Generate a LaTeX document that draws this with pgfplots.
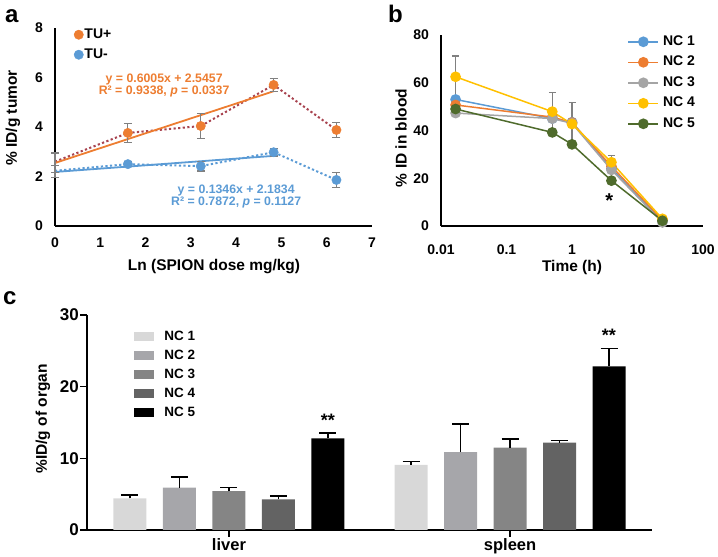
\documentclass[border=0pt]{standalone}
\usepackage{pgfplots}
\pgfplotsset{compat=1.18}
\usepackage{fontspec}
\setmainfont{Liberation Sans}

\definecolor{cOr}{HTML}{ED7D31}
\definecolor{cBl}{HTML}{5B9BD5}
\definecolor{cMa}{HTML}{A8434F}
\definecolor{cGy}{HTML}{A5A5A5}
\definecolor{cYe}{HTML}{FFC000}
\definecolor{cGr}{HTML}{4F6B2C}
\definecolor{eGy}{HTML}{808080}
\definecolor{b1}{HTML}{D8D8D8}
\definecolor{b2}{HTML}{A6A6AA}
\definecolor{b3}{HTML}{858585}
\definecolor{b4}{HTML}{636363}

\pgfplotsset{
  base/.style={scale only axis, anchor=south west, axis lines=left,
    axis line style={-, line width=1.8pt},
    tick style={draw=none}, major tick length=0pt, minor tick length=0pt,
    /pgf/number format/assume math mode=true,
    tick label style={font=\fontsize{14}{16}\selectfont\bfseries},
    yticklabel style={xshift=-8.5pt},
    xticklabel style={yshift=-8pt}},
  ebar/.style={error bars/.cd, y dir=both, y explicit, error mark=|,
    error bar style={eGy, line width=1.2pt},
    error mark options={eGy, line width=1.2pt, mark size=#1}, /pgfplots/.cd},
  cerr/.style={error bars/.cd, y dir=plus, y explicit, error mark=|,
    error bar style={black, line width=1.5pt},
    error mark options={black, line width=1.5pt, mark size=8.5pt}, /pgfplots/.cd},
}

\begin{document}
\begin{tikzpicture}
\useasboundingbox (0pt,0pt) rectangle (718pt,557pt);

% ---------------- panel a ----------------
\begin{axis}[base, at={(55pt,331pt)}, width=317pt, height=198pt,
  xmin=0, xmax=7, ymin=0, ymax=8, xtick={0,1,...,7}, ytick={0,2,4,6,8},
  clip=false,
  legend style={at={(0.05,1.01)}, anchor=north west, draw=none, fill=none,
    font=\fontsize{14}{16}\selectfont\bfseries, row sep=7pt,
    nodes={inner sep=0pt, text height=10pt, text depth=3pt},
    /tikz/every odd column/.append style={column sep=1pt}},
  legend cell align=left,
  legend image code/.code={\draw[#1] plot coordinates {(5pt,0pt)};}]
% dotted connecting lines
\addplot[cMa, line width=2pt, dash pattern=on 2.2pt off 2.4pt, forget plot]
  coordinates {(0,2.6) (1.609,3.76) (3.219,4.04) (4.828,5.70) (6.215,3.88)};
\addplot[cBl, line width=2pt, dash pattern=on 2.2pt off 2.4pt, forget plot]
  coordinates {(0,2.23) (1.609,2.50) (3.219,2.42) (4.828,2.98) (6.215,1.86)};
% regression lines
\addplot[cOr, line width=1.8pt, forget plot] coordinates {(0,2.5457) (4.828,5.4450)};
\addplot[cBl, line width=1.8pt, forget plot] coordinates {(0,2.1834) (4.828,2.8333)};
% error bars
\addplot[forget plot, draw=none, mark=none, ebar=4pt] coordinates {
  (0,2.55) +- (0,0.40) (1.609,3.76) +- (0,0.38) (3.219,4.04) +- (0,0.52)
  (4.828,5.70) +- (0,0.25) (6.215,3.88) +- (0,0.30)};
\addplot[forget plot, draw=none, mark=none, ebar=4pt] coordinates {
  (0,2.20) +- (0,0.25) (1.609,2.50) +- (0,0.10) (3.219,2.42) +- (0,0.20)
  (4.828,2.98) +- (0,0.15) (6.215,1.86) +- (0,0.30)};
% markers
\addplot[only marks, mark=*, mark size=4.7pt, cOr, mark options={draw=cOr, fill=cOr}]
  coordinates {(1.609,3.76) (3.219,4.04) (4.828,5.70) (6.215,3.88)};
\addlegendentry{TU+}
\addplot[only marks, mark=*, mark size=4.7pt, cBl, mark options={draw=cBl, fill=cBl}]
  coordinates {(1.609,2.50) (3.219,2.42) (4.828,2.98) (6.215,1.86)};
\addlegendentry{TU-}
\node[cOr, align=center, font=\fontsize{12.3}{12}\selectfont\bfseries]
  at (axis cs:2.41,5.68) {y = 0.6005x + 2.5457\\R² = 0.9338, \textit{p} = 0.0337};
\node[cBl, align=center, font=\fontsize{12.3}{12}\selectfont\bfseries]
  at (axis cs:4.0,1.18) {y = 0.1346x + 2.1834\\R² = 0.7872, \textit{p} = 0.1127};
\end{axis}

% ---------------- panel b ----------------
\begin{axis}[base, at={(441pt,331pt)}, width=262pt, height=191pt,
  xmode=log, xmin=0.01, xmax=100, ymin=0, ymax=80,
  xtick={0.01,0.1,1,10,100}, xticklabels={0.01,0.1,1,10,100},
  ytick={0,20,40,60,80}, xminorticks=false, clip=false,
  xticklabel style={yshift=-7pt},
  legend style={at={(0.70,1.01)}, anchor=north west, draw=none, fill=none,
    font=\fontsize{14}{16}\selectfont\bfseries, row sep=7.5pt,
    nodes={inner sep=0pt, text height=10pt, text depth=3pt},
    /tikz/every odd column/.append style={column sep=4pt}},
  legend cell align=left,
  legend image code/.code={\draw[mark repeat=2, mark phase=2, #1]
    plot coordinates {(0pt,0pt) (15pt,0pt) (30pt,0pt)};}]
\addplot[forget plot, draw=none, mark=none, ebar=3.5pt] coordinates {
  (0.0167,62.5) +- (0,8.7) (0.5,47.9) +- (0,8.0) (1,42.7) +- (0,8.9) (4,26.7) +- (0,2.7)};
\addplot[cBl, line width=1.5pt, mark=*, mark size=4.6pt]
  coordinates {(0.0167,53) (0.5,45) (1,43.5) (4,24) (24,2)};
\addlegendentry{NC 1}
\addplot[cOr, line width=1.5pt, mark=*, mark size=4.6pt]
  coordinates {(0.0167,50.7) (0.5,45.6) (1,43.3) (4,25) (24,2.5)};
\addlegendentry{NC 2}
\addplot[cGy, line width=1.5pt, mark=*, mark size=4.6pt]
  coordinates {(0.0167,47.3) (0.5,45) (1,43) (4,23.5) (24,1.5)};
\addlegendentry{NC 3}
\addplot[cYe, line width=1.5pt, mark=*, mark size=4.6pt]
  coordinates {(0.0167,62.5) (0.5,47.9) (1,42.7) (4,26.7) (24,3)};
\addlegendentry{NC 4}
\addplot[cGr, line width=1.5pt, mark=*, mark size=4.6pt]
  coordinates {(0.0167,49) (0.5,39.2) (1,34.2) (4,19) (24,2.2)};
\addlegendentry{NC 5}
\node[anchor=north, inner sep=0pt, font=\fontsize{20}{20}\selectfont\bfseries]
  at (axis cs:3.7,13.8) {*};
\end{axis}

% ---------------- panel c ----------------
\begin{axis}[scale only axis, anchor=south west, at={(87pt,27pt)}, width=565pt, height=215pt,
  ybar=16.5pt, bar width=33pt,
  xmin=-0.505, xmax=1.505, ymin=0, ymax=30,
  xtick={0,1}, xticklabels={liver,spleen}, ytick={0,10,20,30},
  axis lines=left, axis line style={-, line width=1.5pt},
  tick align=outside, major tick length=7pt, tick style={line width=1.5pt, black},
  /pgf/number format/assume math mode=true,
  yticklabel style={font=\fontsize{17}{19}\selectfont\bfseries, inner sep=1pt},
  xticklabel style={font=\fontsize{16.5}{18}\selectfont\bfseries, inner sep=0pt, yshift=-1pt},
  legend style={at={(0.078,0.94)}, anchor=north west, draw=none, fill=none,
    font=\fontsize{13.5}{16}\selectfont\bfseries, row sep=6pt,
    nodes={inner sep=0pt, text height=10pt, text depth=3pt},
    /tikz/every odd column/.append style={column sep=10pt}},
  legend cell align=left,
  legend image code/.code={\fill[#1] (0pt,-4.2pt) rectangle (20pt,4.2pt);}]
\addplot[fill=b1, draw=none, cerr] coordinates {(0,4.40) +- (0,0.48) (1,9.07) +- (0,0.51)};
\addlegendentry{NC 1}
\addplot[fill=b2, draw=none, cerr] coordinates {(0,5.90) +- (0,1.53) (1,10.88) +- (0,3.90)};
\addlegendentry{NC 2}
\addplot[fill=b3, draw=none, cerr] coordinates {(0,5.44) +- (0,0.46) (1,11.48) +- (0,1.21)};
\addlegendentry{NC 3}
\addplot[fill=b4, draw=none, cerr] coordinates {(0,4.28) +- (0,0.46) (1,12.18) +- (0,0.32)};
\addlegendentry{NC 4}
\addplot[fill=black, draw=none, cerr] coordinates {(0,12.80) +- (0,0.70) (1,22.83) +- (0,2.47)};
\addlegendentry{NC 5}
\node[anchor=north, inner sep=0pt, font=\fontsize{18}{18}\selectfont\bfseries]
  at (axis cs:0.352,16.2) {**};
\node[anchor=north, inner sep=0pt, font=\fontsize{18}{18}\selectfont\bfseries]
  at (axis cs:1.352,28.0) {**};
\end{axis}

% ---------------- labels ----------------
\node[anchor=base west, inner sep=0pt, font=\fontsize{24}{24}\selectfont\bfseries] at (5pt,534pt) {a};
\node[anchor=base west, inner sep=0pt, font=\fontsize{24}{24}\selectfont\bfseries] at (388pt,534pt) {b};
\node[anchor=base west, inner sep=0pt, font=\fontsize{24}{24}\selectfont\bfseries] at (3pt,252pt) {c};
\node[rotate=90, font=\fontsize{15.5}{17}\selectfont\bfseries] at (13pt,439pt) {\% ID/g tumor};
\node[font=\fontsize{15.5}{17}\selectfont\bfseries] at (214pt,290pt) {Ln (SPION dose mg/kg)};
\node[rotate=90, font=\fontsize{15.5}{17}\selectfont\bfseries] at (401pt,419pt) {\% ID in blood};
\node[font=\fontsize{15.5}{17}\selectfont\bfseries] at (572pt,290pt) {Time (h)};
\node[rotate=90, font=\fontsize{15.5}{17}\selectfont\bfseries] at (43pt,138pt) {\%ID/g of organ};
\end{tikzpicture}
\end{document}
